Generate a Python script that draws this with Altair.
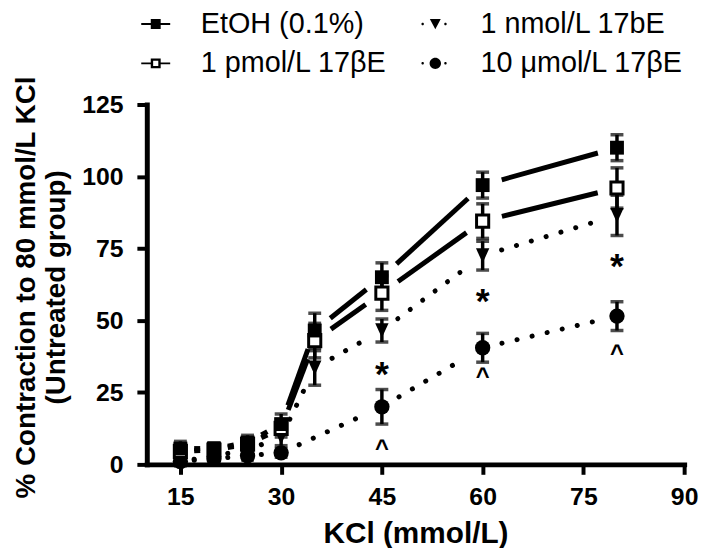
import altair as alt
import pandas as pd

# ---------------- data ----------------
kcl = [15, 20, 25, 30, 35, 45, 60, 80]
kcl_umol = [15, 20, 25, 30, 45, 60, 80]

# legend order (column-major: col 1 = first two, col 2 = last two)
series_names = ["EtOH (0.1%)", "1 pmol/L 17βE", "1 nmol/L 17bE", "10 μmol/L 17βE"]

etoh_mean = [5.5, 5.5, 7.6, 14, 46.5, 65, 97, 110]
etoh_sem = [2.5, 2, 2.5, 3.5, 6, 5, 4.5, 4.5]
pmol_mean = [4.5, 5, 7, 12.5, 43, 59.5, 84.5, 96]
pmol_sem = [2, 2, 2, 3, 6, 6, 6, 7]
nmol_mean = [1, 3, 5, 9.5, 33.5, 46.5, 72.5, 86.5]
nmol_sem = [1.5, 1.5, 2, 3, 6, 4, 5, 7]
umol_mean = [1, 2, 3, 4, 20, 40.5, 51.5]
umol_sem = [1, 1, 1.5, 1.5, 6, 5, 5]

star_x = [45, 60, 80]
star_y = [34, 59.5, 71.5]
caret_x = [45, 60, 80]
caret_y = [7, 32, 40]

x_ticks = [15, 30, 45, 60, 75, 90]
y_ticks = [0, 25, 50, 75, 100, 125]

# ---------------- geometry / style ----------------
W, H = 542, 363
XDOM, YDOM = [10, 90], [0, 125]
SX = W / (XDOM[1] - XDOM[0])
SY = H / (YDOM[1] - YDOM[0])
FONT = "Liberation Sans"

xscale = alt.Scale(domain=XDOM, nice=False, zero=False)
yscale = alt.Scale(domain=YDOM, nice=False)

xaxis = alt.Axis(
    title="KCl (mmol/L)", values=x_ticks, format="d",
    titleFontSize=30, titleFontWeight="bold", titleFont=FONT,
    titleBaseline="alphabetic", titleY=79,
    labelFontSize=25, labelFontWeight="bold", labelFont=FONT, labelPadding=10,
    tickSize=10, tickWidth=4, domainWidth=5, domainCap="square",
    labelFlush=False, labelOverlap=False,
)
yaxis = alt.Axis(
    title=["% Contraction to 80 mmol/L KCl", "(Untreated group)"], values=y_ticks, format="d",
    titleFontSize=28, titleFontWeight="bold", titleFont=FONT, titleLineHeight=30,
    titleX=-107, titleY=184, titleBaseline="bottom", titleAlign="center",
    labelFontSize=25, labelFontWeight="bold", labelFont=FONT, labelPadding=14,
    tickSize=10, tickWidth=4, domainWidth=5, domainCap="square",
    labelFlush=False, labelOverlap=False,
)

X = alt.X("x:Q", scale=xscale, axis=xaxis)
Y = alt.Y("y:Q", scale=yscale, axis=yaxis)

series = [
    dict(name="EtOH (0.1%)", xs=kcl, m=etoh_mean, e=etoh_sem, dash=None,
         shape="square", fill="black", size=196, sw=0),
    dict(name="1 pmol/L 17βE", xs=kcl, m=pmol_mean, e=pmol_sem, dash=None,
         shape="square", fill="white", size=150, sw=3),
    dict(name="1 nmol/L 17bE", xs=kcl, m=nmol_mean, e=nmol_sem, dash=[0.1, 15.5],
         shape="M-1,-1.1H1L0,1.1Z", fill="black", size=182, sw=0),
    dict(name="10 μmol/L 17βE", xs=kcl_umol, m=umol_mean, e=umol_sem, dash=[0.1, 15.5],
         shape="circle", fill="black", size=240, sw=0),
]


def segments(xs, ys):
    rows = []
    for i in range(len(xs) - 1):
        dxp = (xs[i + 1] - xs[i]) * SX
        dyp = (ys[i + 1] - ys[i]) * SY
        L = (dxp ** 2 + dyp ** 2) ** 0.5
        t = min(20.0, 0.41 * L) / L
        rows.append(dict(
            x=xs[i] + t * (xs[i + 1] - xs[i]), y=ys[i] + t * (ys[i + 1] - ys[i]),
            x2=xs[i + 1] - t * (xs[i + 1] - xs[i]), y2=ys[i + 1] - t * (ys[i + 1] - ys[i]),
        ))
    return pd.DataFrame(rows)


line_layers, err_layers, mark_layers = [], [], []
for s in series:
    seg = segments(s["xs"], s["m"])
    kw = dict(color="black", strokeWidth=5, strokeCap="round" if s["dash"] else "butt")
    if s["dash"]:
        kw["strokeDash"] = s["dash"]
    line_layers.append(alt.Chart(seg).mark_rule(**kw).encode(x=X, y=Y, x2="x2:Q", y2="y2:Q"))

    df = pd.DataFrame({"x": s["xs"], "y": s["m"], "e": s["e"]})
    df["lo"] = df["y"] - df["e"]
    df["hi"] = df["y"] + df["e"]
    err = alt.Chart(df).mark_rule(color="black", strokeWidth=3.5).encode(
        x=X, y=alt.Y("lo:Q", scale=yscale, axis=yaxis), y2="hi:Q")
    cap_lo = alt.Chart(df).mark_tick(orient="horizontal", color="black", size=13, thickness=3.5).encode(
        x=X, y=alt.Y("lo:Q", scale=yscale, axis=yaxis))
    cap_hi = alt.Chart(df).mark_tick(orient="horizontal", color="black", size=13, thickness=3.5).encode(
        x=X, y=alt.Y("hi:Q", scale=yscale, axis=yaxis))
    err_layers += [err, cap_lo, cap_hi]

    mkw = dict(shape=s["shape"], size=s["size"], opacity=1, fill=s["fill"], stroke="black",
               strokeWidth=s["sw"], filled=s["fill"] == "black")
    mark_layers.append(alt.Chart(df).mark_point(**mkw).encode(x=X, y=Y))

mark_layers = mark_layers[::-1]

stars = pd.DataFrame({"x": star_x, "y": star_y})
carets = pd.DataFrame({"x": caret_x, "y": caret_y})
star_layer = alt.Chart(stars).mark_text(text="*", fontSize=36, fontWeight="bold", font=FONT,
                                        baseline="middle", dy=9, color="black").encode(x=X, y=Y)
caret_layer = alt.Chart(carets).mark_text(text="^", fontSize=24, fontWeight="bold", font=FONT,
                                          baseline="middle", dy=5, color="black").encode(x=X, y=Y)

# legend-only layer (points clipped out of view); paths follow series_names order
path_line_square = "M-2.92,-0.19H-1V-1H1V-0.19H2.92V0.19H1V1H-1V0.19H-2.92Z"
dot_left = "M-2.8,0A0.25,0.25,0,1,0,-2.3,0A0.25,0.25,0,1,0,-2.8,0Z"
dot_right = "M1.8,0A0.25,0.25,0,1,0,2.3,0A0.25,0.25,0,1,0,1.8,0Z"
legend_paths = [
    path_line_square,
    path_line_square + "M-0.52,-0.52V0.52H0.52V-0.52Z",
    dot_left + "M-1.1,-1H1.1L0,1.05Z" + dot_right,
    dot_left + "M-1.15,0A1.15,1.15,0,1,0,1.15,0A1.15,1.15,0,1,0,-1.15,0Z" + dot_right,
]
leg_df = pd.DataFrame({"series": series_names, "x": [50] * 4, "y": [-60] * 4})
legend_layer = alt.Chart(leg_df).mark_point(
    filled=True, size=169, color="black", strokeWidth=0, opacity=1, clip=True
).encode(
    x=X, y=Y,
    shape=alt.Shape("series:N", scale=alt.Scale(domain=series_names, range=legend_paths),
                    legend=alt.Legend(
                        title=None, orient="none", legendX=-5.5, legendY=-96,
                        columns=2, columnPadding=34, rowPadding=10,
                        labelFontSize=29, labelFont=FONT, labelColor="black",
                        labelOffset=31, labelLimit=400, padding=0,
                        symbolStrokeWidth=0, symbolFillColor="black", symbolOpacity=1,
                    )),
)

chart = alt.layer(
    *line_layers, *err_layers, *mark_layers, star_layer, caret_layer, legend_layer
).properties(
    width=W, height=H,
    autosize=alt.AutoSizeParams(type="none"),
    padding={"left": 140, "top": 95, "right": 17, "bottom": 82},
).configure_view(stroke=None).configure_axis(
    grid=False, domainColor="black", tickColor="black", labelColor="black", titleColor="black"
)

chart.save("out.html", embed_options={"renderer": "svg", "actions": False})
